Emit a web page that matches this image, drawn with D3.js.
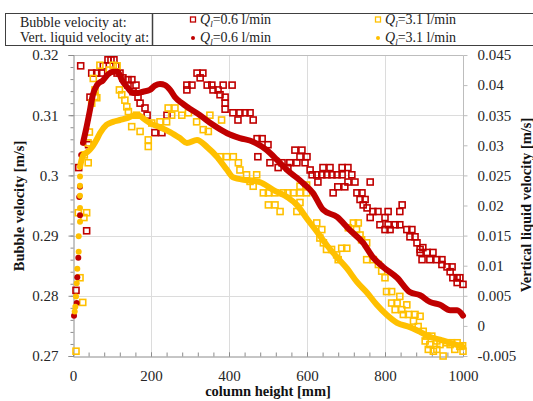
<!DOCTYPE html>
<html>
<head>
<meta charset="utf-8">
<script src="https://cdn.jsdelivr.net/npm/d3@7/dist/d3.min.js"></script>
<style>
  html, body { margin: 0; padding: 0; background: #fff; }
  svg { display: block; }
  svg text { font-family: "Liberation Serif", "Times New Roman", serif; }
</style>
</head>
<body>
<svg id="chart" width="533" height="401"></svg>
<script>
// Bubble velocity [m/s] vs column height [mm] (left axis)
const bubbleLow = [ // Q_l = 0.6 l/min
  [7.7,0.2809],[14.6,0.3013],[19.7,0.3182],[35,0.2908],[40,0.3051],[43.6,0.3130],[48,0.3170],
  [60.8,0.3170],[73.6,0.3170],[77.7,0.3182],[89.7,0.3192],[97.4,0.3192],[105,0.3192],[110,0.3182],
  [113,0.3170],[120.5,0.3170],[128,0.3162],[141,0.3159],[151,0.3159],[161.5,0.3150],[141,0.3150],
  [154,0.3139],[166.7,0.3130],[172,0.3120],[184.6,0.3112],[190,0.3100],[210,0.3071],[228,0.3071],
  [241,0.3100],[292,0.3150],[292,0.3142],[305,0.3150],[318,0.3170],[326,0.3162],[333,0.3170],
  [344,0.3150],[356,0.3150],[359,0.3142],[372,0.3142],[377,0.3134],[385,0.3150],[390,0.3130],
  [390,0.3120],[390,0.3110],[408,0.3150],[410,0.3104],[428,0.3104],[441,0.3104],[454,0.3104],
  [423,0.3092],[462,0.3092],[472,0.3061],[485,0.3061],[474,0.3031],[500,0.3051],[505,0.3021],
  [526,0.3013],[536,0.3021],[551,0.3013],[556,0.3021],[569,0.3042],[574,0.3021],[582,0.3031],
  [587,0.3042],[595,0.3021],[600,0.3031],[608,0.3009],[613,0.3001],[625,0.3001],[628,0.2989],
  [638,0.3001],[641,0.3013],[651,0.3001],[659,0.3013],[664,0.3001],[667,0.2971],[677,0.3001],
  [679,0.2981],[690,0.3001],[690,0.3013],[697,0.2981],[705,0.3013],[705,0.2989],[715,0.3001],
  [723,0.2989],[728,0.2971],[736,0.2960],[741,0.2971],[749,0.2960],[744,0.2951],[754,0.2946],
  [762,0.2989],[762,0.2930],[769,0.2940],[782,0.2940],[787,0.2918],[800,0.2930],[800,0.2910],
  [808,0.2940],[808,0.2918],[813,0.2910],[826,0.2918],[838,0.2940],[844,0.2951],[838,0.2918],
  [856,0.2910],[864,0.2898],[869,0.2910],[877,0.2898],[882,0.2888],[890,0.2877],[890,0.2872],
  [897,0.2880],[895,0.2860],[908,0.2872],[915,0.2860],[923,0.2872],[933,0.2860],[946,0.2860],
  [946,0.2852],[959,0.2848],[972,0.2848],[967,0.2840],[974,0.2830],[985,0.2830],[992,0.2830],
  [985,0.2822],[1000,0.2819]
];
const bubbleHigh = [ // Q_l = 3.1 l/min
  [7.7,0.2708],[18,0.2830],[25,0.2789],[28,0.2930],[13.6,0.2938],[35,0.2938],[29,0.3034],
  [38.5,0.3054],[42,0.3072],[39,0.3021],[48,0.3120],[56.4,0.3131],[56.4,0.3142],[61,0.3129],
  [52,0.3161],[69,0.3183],[93,0.3175],[103,0.3183],[113,0.3182],[119,0.3142],[125,0.3134],
  [133,0.3125],[138,0.3114],[142,0.3106],[150.5,0.3081],[163,0.3100],[172,0.3073],[193,0.3059],
  [193,0.3048],[202,0.3087],[223,0.3089],[240,0.3089],[244,0.3112],[261.5,0.3112],[253,0.3100],
  [279,0.3100],[296,0.3104],[317,0.3089],[334,0.3076],[347,0.3073],[351,0.3100],[381,0.3092],
  [377,0.3031],[394,0.3031],[411,0.3031],[424,0.3021],[428,0.3009],[445,0.3001],[454,0.2990],
  [462,0.2982],[471,0.3001],[488,0.2971],[501,0.2971],[518,0.2971],[539,0.2971],[551,0.2971],
  [565,0.2971],[582,0.2971],[599,0.2971],[501,0.2951],[518,0.2951],[531,0.2940],[574,0.2940],
  [582,0.2955],[599,0.2984],[582,0.2982],[625,0.2921],[638,0.2910],[633,0.2896],[642,0.2888],
  [650,0.2877],[663,0.2877],[676,0.2868],[680,0.2860],[689,0.2879],[702,0.2879],[706,0.2913],
  [719,0.2921],[731.5,0.2921],[727,0.2910],[736,0.2901],[740,0.2893],[753,0.2888],[753,0.2860],
  [770,0.2860],[783,0.2852],[791.5,0.2841],[800,0.2830],[804,0.2807],[817,0.2807],[838,0.2799],
  [817,0.2788],[831,0.2788],[826,0.2777],[843,0.2777],[856,0.2785],[847,0.2769],[860,0.2769],
  [877,0.2769],[873,0.2758],[885,0.2749],[890,0.2766],[898,0.2741],[907,0.2733],[920,0.2733],
  [903,0.2725],[915,0.2719],[933,0.2725],[941,0.2719],[911,0.2711],[933,0.2711],[924,0.2708],
  [949,0.2700],[958,0.2722],[967,0.2719],[971,0.2722],[979,0.2711],[985,0.2722],[992,0.2716],
  [1000,0.2708],[999,0.2717]
];

// Vertical liquid velocity [m/s] vs column height [mm] (right axis)
const liquidLowSparse = [
  [2.6,0.0017],[9.5,0.0038],[11,0.0081],[13.6,0.0113],[18,0.0184],[16,0.0214],[18,0.0231],[21,0.0284]
];
const liquidLow = [
  [25.6,0.0304],[33,0.0325],[43.6,0.0359],[51,0.0384],[61.5,0.0400],[77,0.0408],[90,0.0418],
  [102.6,0.0422],[115,0.0422],[125.6,0.0408],[138.5,0.0397],[154,0.0387],[167,0.0387],
  [179.5,0.0389],[197,0.0392],[210,0.0399],[223,0.0402],[236,0.0400],[249,0.0392],[261.5,0.0380],
  [279.5,0.0370],[292,0.0364],[325.6,0.0350],[359,0.0334],[395,0.0320],[428,0.0312],[461.5,0.0306],
  [497,0.0292],[523,0.0276],[549,0.0259],[574,0.0246],[590,0.0237],[615,0.0221],[641,0.0193],
  [677,0.0181],[710,0.0159],[744,0.0138],[769,0.0114],[795,0.0098],[831,0.0080],[864,0.0056],
  [890,0.0051],[915,0.0040],[941,0.0035],[967,0.0026],[985,0.0026],[1000,0.0017]
];
const liquidHighSparse = [
  [4.4,0.0024],[6,0.0032],[7.7,0.0049],[9.5,0.0071],[11,0.0095],[14.6,0.0123],[14.6,0.0149],
  [18,0.0173],[18,0.0196],[18,0.0216],[18,0.0233],[18,0.0248]
];
const liquidHigh = [
  [18,0.0264],[22,0.0276],[26.4,0.0284],[35,0.0288],[43.6,0.0293],[52,0.0300],[61,0.0310],
  [69,0.0320],[86,0.0334],[102.6,0.0339],[120.5,0.0342],[138.5,0.0345],[159,0.0350],[172,0.0349],
  [179.5,0.0345],[197,0.0337],[223,0.0330],[249,0.0322],[274,0.0312],[292,0.0304],[318,0.0309],
  [344,0.0297],[369,0.0281],[395,0.0259],[410,0.0247],[446,0.0242],[479,0.0239],[513,0.0226],
  [549,0.0214],[574,0.0201],[600,0.0178],[626,0.0156],[651,0.0134],[677,0.0114],[703,0.0095],
  [728,0.0073],[754,0.0055],[779,0.0035],[805,0.0018],[831,0.0005],[864,-0.0002],[890,-0.0010],
  [915,-0.0018],[941,-0.0023],[967,-0.0028],[1000,-0.0035]
];

// Axis ticks
const xTicks = [0, 200, 400, 600, 800, 1000];
const xTickLabels = ["0", "200", "400", "600", "800", "1000"];
const yLeftTicks = [0.27, 0.28, 0.29, 0.30, 0.31, 0.32];
const yLeftTickLabels = ["0.27", "0.28", "0.29", "0.3", "0.31", "0.32"];
const yRightTicks = [-0.005, 0, 0.005, 0.01, 0.015, 0.02, 0.025, 0.03, 0.035, 0.04, 0.045];
const yRightTickLabels = ["-0.005", "0", "0.005", "0.01", "0.015", "0.02", "0.025", "0.03", "0.035", "0.04", "0.045"];

const legendRows = ["Bubble velocity at:", "Vert. liquid velocity at:"];
const legendFlows = ["0.6", "3.1"];

const RED = "#c00000", GOLD = "#ffc000";
const SERIF = '"Liberation Serif", "Times New Roman", serif';
const svg = d3.select("#chart");
const plotL = 73, plotR = 463, plotT = 55, plotB = 356;

const x = d3.scaleLinear().domain([0, 1000]).range([plotL, plotR]);
const yL = d3.scaleLinear().domain([0.27, 0.32]).range([plotB, plotT]);
const yR = d3.scaleLinear().domain([-0.005, 0.045]).range([plotB, plotT]);

// Gridlines
const grid = svg.append("g").attr("stroke", "#dcdcdc").attr("stroke-width", 1);
yLeftTicks.slice(1, -1).forEach(v => {
  grid.append("line").attr("x1", plotL).attr("x2", plotR)
    .attr("y1", Math.round(yL(v)) + 0.5).attr("y2", Math.round(yL(v)) + 0.5);
});
xTicks.slice(1, -1).forEach(v => {
  grid.append("line").attr("y1", plotT).attr("y2", plotB)
    .attr("x1", Math.round(x(v)) + 0.5).attr("x2", Math.round(x(v)) + 0.5);
});
// Plot frame (top and right)
svg.append("path")
  .attr("d", `M${plotL},${plotT + 0.5}H${plotR + 0.5}V${plotB}`)
  .attr("fill", "none").attr("stroke", "#bdbdbd").attr("stroke-width", 1);

function styleLabels(g) {
  g.attr("font-family", null);
  g.selectAll("text").style("font-family", SERIF).style("font-size", "15px").attr("fill", "#262626");
}

// Left axis: minor then major ticks
const minorY = d3.range(0, 26).map(i => 0.27 + i * 0.002);
svg.append("g").attr("transform", `translate(${plotL + 0.5},0)`)
  .call(d3.axisLeft(yL).tickValues(minorY).tickSize(3).tickFormat(""))
  .call(g => g.select(".domain").remove())
  .call(g => g.selectAll("line").attr("stroke", "#8c8c8c"));
svg.append("g").attr("transform", `translate(${plotL + 0.5},0)`)
  .call(d3.axisLeft(yL).tickValues(yLeftTicks).tickSize(5).tickPadding(10)
    .tickFormat((d, i) => yLeftTickLabels[i]))
  .call(g => g.select(".domain").attr("stroke", "#8c8c8c"))
  .call(g => g.selectAll("line").attr("stroke", "#8c8c8c"))
  .call(styleLabels);

// Bottom axis: minor and major ticks pointing inward
const minorX = d3.range(0, 26).map(i => i * 40);
svg.append("g").attr("transform", `translate(0,${plotB + 0.5})`)
  .call(d3.axisBottom(x).tickValues(minorX).tickSize(-4).tickFormat(""))
  .call(g => g.select(".domain").remove())
  .call(g => g.selectAll("line").attr("stroke", "#8c8c8c"));
svg.append("g").attr("transform", `translate(0,${plotB + 0.5})`)
  .call(d3.axisBottom(x).tickValues(xTicks).tickSize(-4).tickPadding(14)
    .tickFormat((d, i) => xTickLabels[i]))
  .call(g => g.select(".domain").attr("stroke", "#8c8c8c"))
  .call(g => g.selectAll("line").attr("stroke", "#8c8c8c"))
  .call(styleLabels);

// Right axis
svg.append("g").attr("transform", `translate(${plotR + 0.5},0)`)
  .call(d3.axisRight(yR).tickValues(yRightTicks).tickSize(4).tickPadding(10)
    .tickFormat((d, i) => yRightTickLabels[i]))
  .call(g => g.select(".domain").remove())
  .call(g => g.selectAll("line").attr("stroke", "#bdbdbd"))
  .call(styleLabels);

// Bubble velocity: hollow squares
const sq = 6;
function squares(data, color) {
  svg.append("g").selectAll("rect").data(data).join("rect")
    .attr("x", d => x(d[0]) - sq / 2).attr("y", d => yL(d[1]) - sq / 2)
    .attr("width", sq).attr("height", sq)
    .attr("fill", "none")
    .attr("stroke", color).attr("stroke-width", 1.6);
}
squares(bubbleLow, RED);
squares(bubbleHigh, GOLD);

// Vertical liquid velocity: dense dot chains drawn as thick lines, sparse dots near the inlet
const lineGen = d3.line().x(d => x(d[0])).y(d => yR(d[1])).curve(d3.curveMonotoneX);
function liquid(dense, sparse, color) {
  svg.append("path").datum(dense).attr("d", lineGen)
    .attr("fill", "none").attr("stroke", color).attr("stroke-width", 6)
    .attr("stroke-linecap", "round").attr("stroke-linejoin", "round");
  svg.append("g").selectAll("circle").data(sparse).join("circle")
    .attr("cx", d => x(d[0])).attr("cy", d => yR(d[1])).attr("r", 3)
    .attr("fill", color);
}
liquid(liquidLow, liquidLowSparse, RED);
liquid(liquidHigh, liquidHighSparse, GOLD);

// Axis titles
svg.append("text").attr("transform", "translate(24,206) rotate(-90)")
  .attr("text-anchor", "middle").attr("font-weight", "bold").attr("font-size", 14.5)
  .attr("fill", "#111").text("Bubble velocity [m/s]");
svg.append("text").attr("transform", "translate(531,205) rotate(-90)")
  .attr("text-anchor", "middle").attr("font-weight", "bold").attr("font-size", 14.5)
  .attr("fill", "#111").text("Vertical liquid velocity [m/s]");
svg.append("text").attr("x", 268).attr("y", 396)
  .attr("text-anchor", "middle").attr("font-weight", "bold").attr("font-size", 14.5)
  .attr("fill", "#111").text("column height [mm]");

// Legend
const lg = svg.append("g");
lg.append("rect").attr("x", 5.5).attr("y", 13.5).attr("width", 540).attr("height", 32)
  .attr("fill", "#fff").attr("stroke", "#404040").attr("stroke-width", 1);
lg.append("line").attr("x1", 152.5).attr("x2", 152.5).attr("y1", 13.5).attr("y2", 45.5)
  .attr("stroke", "#404040").attr("stroke-width", 1.5);
legendRows.forEach((t, i) => {
  lg.append("text").attr("x", 20).attr("y", 27 + i * 14.5).attr("font-size", 14)
    .attr("fill", "#222").text(t);
});
const entryX = [193, 378];
const entryColor = [RED, GOLD];
[0, 1].forEach(row => {
  legendFlows.forEach((f, j) => {
    const cx = entryX[j], cy = 19.5 + row * 18.5;
    if (row === 0) {
      lg.append("rect").attr("x", cx - 2.5).attr("y", cy - 2.5).attr("width", 5).attr("height", 5)
        .attr("fill", "none").attr("stroke", entryColor[j]).attr("stroke-width", 1.3);
    } else {
      lg.append("circle").attr("cx", cx).attr("cy", cy).attr("r", 2).attr("fill", entryColor[j]);
    }
    const t = lg.append("text").attr("x", cx + 7).attr("y", 24 + row * 17.5)
      .attr("font-size", 14).attr("fill", "#222");
    t.append("tspan").attr("font-style", "italic").text("Q");
    t.append("tspan").attr("font-style", "italic").attr("font-size", 9).attr("dy", 3).text("l");
    t.append("tspan").attr("dy", -3).text("=" + f + " l/min");
  });
});
</script>
</body>
</html>
